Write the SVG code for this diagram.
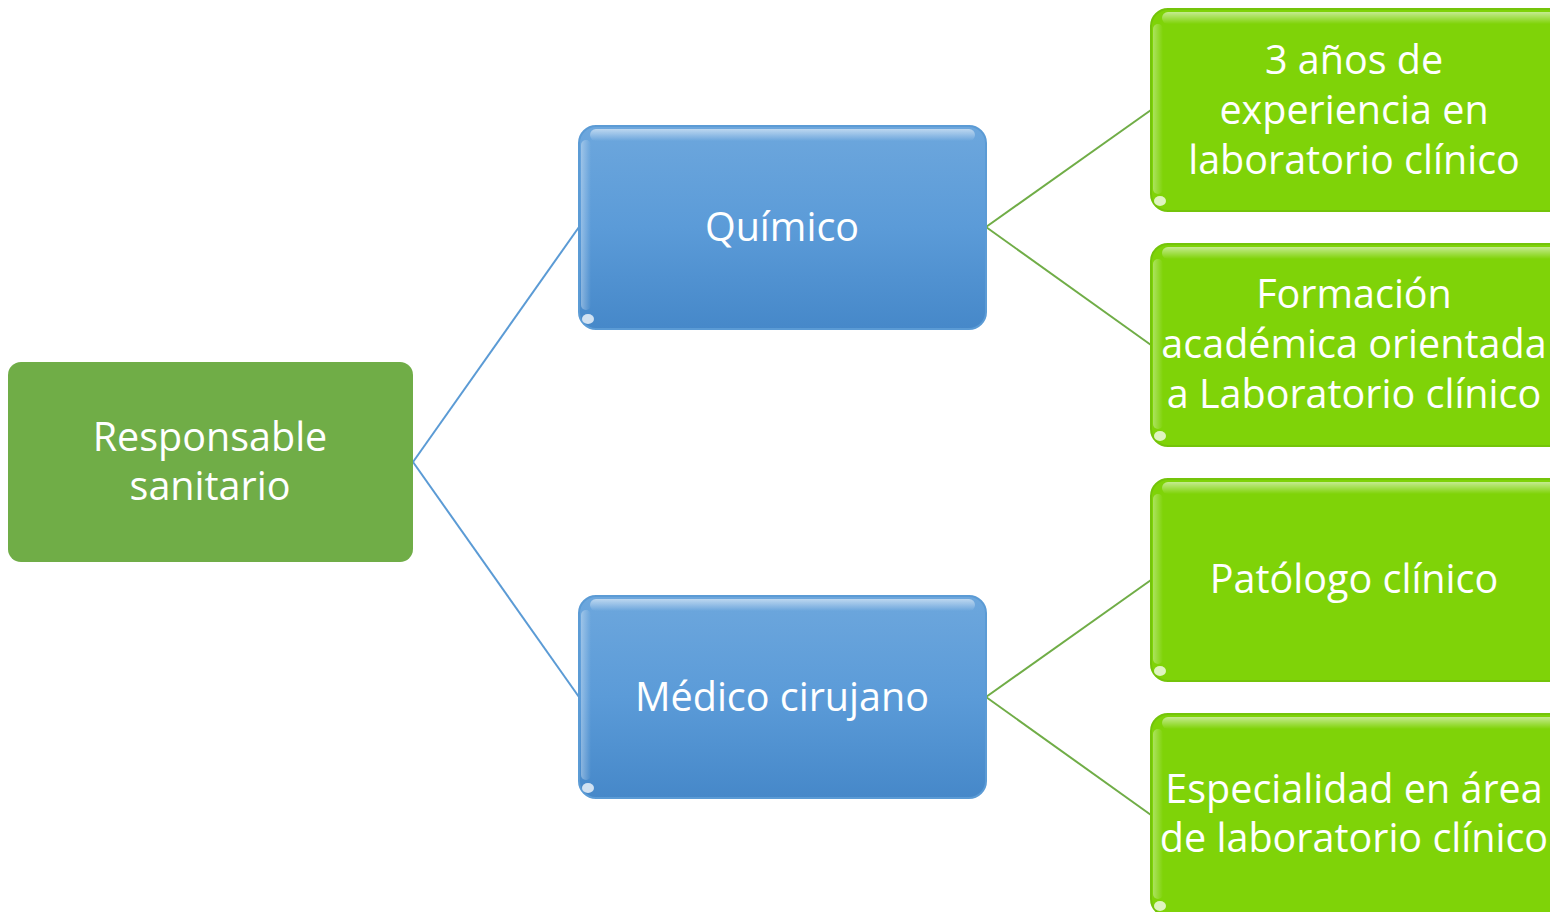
<svg xmlns="http://www.w3.org/2000/svg" width="1550" height="912" viewBox="0 0 1550 912">
<defs>
<linearGradient id="gBlue" x1="0" y1="0" x2="0" y2="1">
<stop offset="0" stop-color="#6DA7DD"/>
<stop offset="0.5" stop-color="#5B9BD8"/>
<stop offset="1" stop-color="#4688C9"/>
</linearGradient>
<linearGradient id="gShine" x1="0" y1="0" x2="0" y2="1">
<stop offset="0" stop-color="#ffffff" stop-opacity="0.55"/>
<stop offset="1" stop-color="#ffffff" stop-opacity="0"/>
</linearGradient>
<linearGradient id="gSide" x1="0" y1="0" x2="1" y2="0">
<stop offset="0" stop-color="#ffffff" stop-opacity="0.35"/>
<stop offset="1" stop-color="#ffffff" stop-opacity="0"/>
</linearGradient>
</defs>
<style>
.t{font-family:"Open Sans","Liberation Sans",sans-serif;fill:#ffffff;text-anchor:middle;font-size:39.5px}
.blue{fill:url(#gBlue);stroke:#5B9BD5;stroke-width:2}
.green{fill:#7FD308;stroke:#74C40A;stroke-width:2}
.shine{fill:url(#gShine)}
.side{fill:url(#gSide)}
.dot{fill:#ffffff;opacity:0.75}
.cb{stroke:#5B9BD5;stroke-width:2;fill:none}
.cg{stroke:#70AD47;stroke-width:2;fill:none}
</style>
<rect width="1550" height="912" fill="#ffffff"/>
<g id="connectors">
<line class="cb" x1="413" y1="462" x2="579" y2="227"/>
<line class="cb" x1="413" y1="462" x2="579" y2="697"/>
<line class="cg" x1="986" y1="227" x2="1151" y2="110"/>
<line class="cg" x1="986" y1="227" x2="1151" y2="345"/>
<line class="cg" x1="986" y1="697" x2="1151" y2="580"/>
<line class="cg" x1="986" y1="697" x2="1151" y2="815"/>
</g>
<g id="responsable">
<rect x="8" y="362" width="405" height="200" rx="13" fill="#70AD47"/>
<text class="t" x="210" y="451">Responsable</text>
<text class="t" x="210" y="500">sanitario</text>
</g>
<g id="quimico">
<rect class="blue" x="579" y="126" width="407" height="203" rx="17"/>
<rect class="shine" x="590" y="129" width="385" height="12" rx="6"/>
<rect class="side" x="581" y="140" width="10" height="170" rx="5"/>
<ellipse class="dot" cx="588" cy="319" rx="6" ry="5"/>
<text class="t" x="782" y="241">Químico</text>
</g>
<g id="medico">
<rect class="blue" x="579" y="596" width="407" height="202" rx="17"/>
<rect class="shine" x="590" y="599" width="385" height="12" rx="6"/>
<rect class="side" x="581" y="610" width="10" height="170" rx="5"/>
<ellipse class="dot" cx="588" cy="788" rx="6" ry="5"/>
<text class="t" x="782" y="711">Médico cirujano</text>
</g>
<g id="experiencia">
<rect class="green" x="1151" y="9" width="420" height="202" rx="17"/>
<rect class="shine" x="1162" y="12" width="400" height="12" rx="6"/>
<rect class="side" x="1153" y="24" width="10" height="170" rx="5"/>
<ellipse class="dot" cx="1160" cy="201" rx="6" ry="5"/>
<text class="t" x="1354" y="74">3 años de</text>
<text class="t" x="1354" y="124">experiencia en</text>
<text class="t" x="1354" y="174">laboratorio clínico</text>
</g>
<g id="formacion">
<rect class="green" x="1151" y="244" width="420" height="202" rx="17"/>
<rect class="shine" x="1162" y="247" width="400" height="12" rx="6"/>
<rect class="side" x="1153" y="259" width="10" height="170" rx="5"/>
<ellipse class="dot" cx="1160" cy="436" rx="6" ry="5"/>
<text class="t" x="1354" y="308">Formación</text>
<text class="t" x="1354" y="358">académica orientada</text>
<text class="t" x="1354" y="408">a Laboratorio clínico</text>
</g>
<g id="patologo">
<rect class="green" x="1151" y="479" width="420" height="202" rx="17"/>
<rect class="shine" x="1162" y="482" width="400" height="12" rx="6"/>
<rect class="side" x="1153" y="494" width="10" height="170" rx="5"/>
<ellipse class="dot" cx="1160" cy="671" rx="6" ry="5"/>
<text class="t" x="1354" y="593">Patólogo clínico</text>
</g>
<g id="especialidad">
<rect class="green" x="1151" y="714" width="420" height="202" rx="17"/>
<rect class="shine" x="1162" y="717" width="400" height="12" rx="6"/>
<rect class="side" x="1153" y="729" width="10" height="170" rx="5"/>
<ellipse class="dot" cx="1160" cy="906" rx="6" ry="5"/>
<text class="t" x="1354" y="803">Especialidad en área</text>
<text class="t" x="1354" y="852">de laboratorio clínico</text>
</g>
</svg>
